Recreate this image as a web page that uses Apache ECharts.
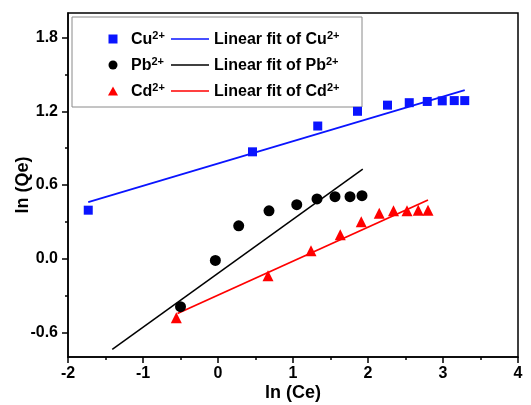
<!DOCTYPE html>
<html><head><meta charset="utf-8">
<script src="https://cdn.jsdelivr.net/npm/echarts@6/dist/echarts.min.js"></script>
<style>html,body{margin:0;padding:0;background:#fff}#c{width:531px;height:405px}</style>
</head><body><div id="c"></div>
<script>
const cuX = [-1.73, 0.46, 1.33, 1.86, 2.26, 2.55, 2.79, 2.99, 3.15, 3.29];
const cuY = [0.395, 0.87, 1.08, 1.20, 1.25, 1.27, 1.28, 1.285, 1.287, 1.287];
const pbX = [-0.50, -0.035, 0.276, 0.68, 1.05, 1.32, 1.56, 1.76, 1.92];
const pbY = [-0.39, -0.014, 0.268, 0.39, 0.44, 0.487, 0.505, 0.505, 0.513];
const cdX = [-0.556, 0.667, 1.24, 1.63, 1.91, 2.15, 2.34, 2.52, 2.67, 2.80];
const cdY = [-0.48, -0.138, 0.065, 0.195, 0.30, 0.37, 0.39, 0.39, 0.395, 0.395];
const cuFitX = [-1.73, 3.29], cuFitY = [0.46, 1.373];
const pbFitX = [-1.41, 1.93], pbFitY = [-0.738, 0.73];
const cdFitX = [-0.54, 2.80], cdFitY = [-0.446, 0.478];
const yLabels = [-0.6, 0, 0.6, 1.2, 1.8];
const yMinor = [-0.3, 0.3, 0.9, 1.5];
const ions = {Cu: 'Cu', Pb: 'Pb', Cd: 'Cd'};

const zip = (a, b) => a.map((v, i) => [v, b[i]]);
const F = '"Liberation Sans", Arial, sans-serif';
const rich = {
  b: {fontFamily: F, fontWeight: 'bold', fontSize: 16, color: '#000', lineHeight: 18, verticalAlign: 'bottom'},
  s: {fontFamily: F, fontWeight: 'bold', fontSize: 11, color: '#000', lineHeight: 18, verticalAlign: 'top'}
};
const BLUE = '#0a14ff', RED = '#ff0000';
const chart = echarts.init(document.getElementById('c'));
chart.setOption({
  animation: false,
  grid: {left: 68, right: 13, top: 13, bottom: 48, show: true, borderColor: '#000', borderWidth: 1.5,
    containLabel: false, outerBoundsMode: 'none'},
  graphic: [{type: 'rect', z: 1, shape: {x: 72, y: 17, width: 290, height: 90}, style: {fill: '#fff', stroke: '#8a8a8a', lineWidth: 1}}],
  legend: [
    {data: [{name: 'Cu', icon: 'path://M0,0L10,0L10,10L0,10Z'}, {name: 'Pb', icon: 'circle'}, {name: 'Cd', icon: 'path://M5,0L10,9L0,9Z'}],
     orient: 'vertical', left: 108, top: 30, padding: 0, itemGap: 8, itemWidth: 26, itemHeight: 9, z: 5,
     formatter: n => '{b|' + ions[n] + '}{s|2+}', textStyle: {rich: rich}, selectedMode: false},
    {data: [{name: 'fitCu', icon: 'rect', itemStyle: {color: BLUE}}, {name: 'fitPb', icon: 'rect', itemStyle: {color: '#000'}}, {name: 'fitCd', icon: 'rect', itemStyle: {color: RED}}],
     orient: 'vertical', left: 171, top: 30, padding: 0, itemGap: 8, itemWidth: 38, itemHeight: 1.6, z: 5,
     formatter: n => '{b|Linear fit of ' + ions[n.slice(3)] + '}{s|2+}', textStyle: {rich: rich}, selectedMode: false}
  ],
  xAxis: {type: 'value', min: -2, max: 4, interval: 1, name: 'ln (Ce)', nameLocation: 'middle', nameGap: 27, nameMoveOverlap: false,
    nameTextStyle: {fontFamily: F, fontWeight: 'bold', fontSize: 18, color: '#000'},
    axisLine: {onZero: false, lineStyle: {color: '#000', width: 1.5}},
    axisTick: {inside: false, length: 6, lineStyle: {color: '#000', width: 1.5}},
    minorTick: {show: true, splitNumber: 2, length: 3, lineStyle: {color: '#000', width: 1.5}},
    axisLabel: {fontFamily: F, fontWeight: 'bold', fontSize: 16, color: '#000', margin: 9},
    splitLine: {show: false}},
  yAxis: [
    {type: 'value', min: -0.8, max: 2.0, name: 'ln (Qe)', nameLocation: 'middle', nameGap: 36, nameMoveOverlap: false,
     nameTextStyle: {fontFamily: F, fontWeight: 'bold', fontSize: 18, color: '#000'},
     axisLine: {onZero: false, lineStyle: {color: '#000', width: 1.5}},
     axisTick: {length: 6, customValues: yLabels, lineStyle: {color: '#000', width: 1.5}},
     axisLabel: {customValues: yLabels, fontFamily: F, fontWeight: 'bold', fontSize: 16, color: '#000', margin: 10,
       formatter: v => v.toFixed(1)},
     splitLine: {show: false}},
    {type: 'value', min: -0.8, max: 2.0, position: 'left', offset: 0,
     axisLine: {show: false, onZero: false},
     axisTick: {length: 3, customValues: yMinor, lineStyle: {color: '#000', width: 1.5}},
     axisLabel: {show: false}, splitLine: {show: false}}
  ],
  series: [
    {name: 'Cu', type: 'scatter', data: zip(cuX, cuY), symbol: 'rect', symbolSize: 9, itemStyle: {color: BLUE, opacity: 1}, z: 3},
    {name: 'Pb', type: 'scatter', data: zip(pbX, pbY), symbol: 'circle', symbolSize: 11, itemStyle: {color: '#000', opacity: 1}, z: 3},
    {name: 'Cd', type: 'scatter', data: zip(cdX, cdY), symbol: 'triangle', symbolSize: 11, itemStyle: {color: RED, opacity: 1}, z: 3},
    {name: 'fitCu', type: 'line', data: zip(cuFitX, cuFitY), symbol: 'none', showSymbol: false, lineStyle: {color: BLUE, width: 1.8}, itemStyle: {color: BLUE}},
    {name: 'fitPb', type: 'line', data: zip(pbFitX, pbFitY), symbol: 'none', showSymbol: false, lineStyle: {color: '#000', width: 1.5}, itemStyle: {color: '#000'}},
    {name: 'fitCd', type: 'line', data: zip(cdFitX, cdFitY), symbol: 'none', showSymbol: false, lineStyle: {color: RED, width: 1.8}, itemStyle: {color: RED}}
  ]
});
</script></body></html>
